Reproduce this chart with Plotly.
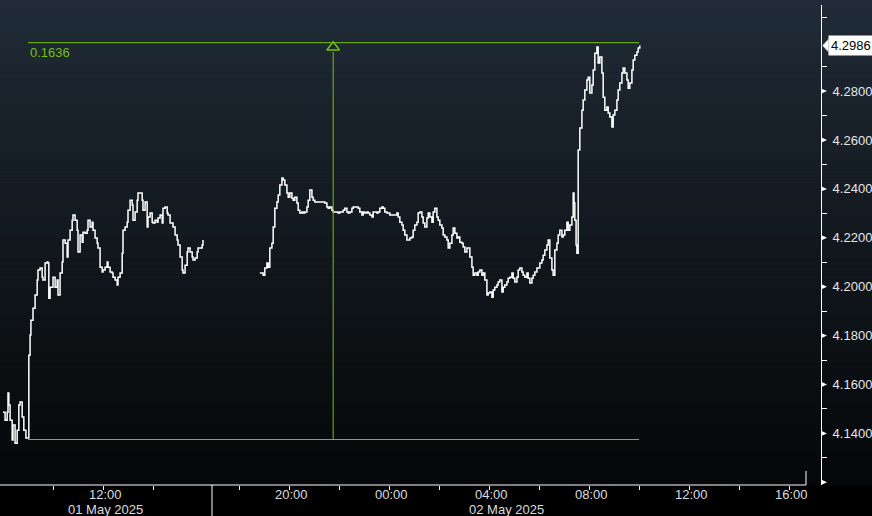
import datetime as dt
import plotly.graph_objects as go

# ---------------- data ----------------
# session 1 (01 May 2025): minutes after midnight, yield values
s1_minutes = [480, 485, 490, 492, 494, 497, 502, 504, 509, 514, 518, 521, 526, 530, 535, 540,
              542, 545, 547, 552, 557, 562, 564, 569, 574, 576, 581, 586, 588, 590, 593, 600,
              605, 610, 612, 617, 622, 624, 629, 634, 636, 641, 646, 648, 653, 658, 660, 665,
              670, 672, 677, 682, 684, 689, 694, 696, 701, 706, 708, 713, 718, 720, 725, 730,
              732, 737, 742, 744, 749, 754, 756, 761, 766, 768, 773, 778, 780, 785, 790, 792,
              797, 802, 804, 809, 814, 816, 821, 826, 828, 833, 838, 840, 845, 850, 852, 857,
              862, 864, 869, 874, 876, 881, 886, 888, 893, 898, 900, 905, 910, 912, 917, 922,
              924, 929, 934, 936, 941, 946, 948, 953, 958, 960]
s1_values = [4.1487, 4.1454, 4.1487, 4.1565, 4.1516, 4.1454, 4.1373, 4.1434, 4.1360, 4.1413,
             4.1516, 4.1528, 4.1467, 4.1413, 4.1381, 4.1381, 4.1720, 4.1802, 4.1863, 4.1912,
             4.1966, 4.2027, 4.2068, 4.2076, 4.2039, 4.2027, 4.2097, 4.2101, 4.2097, 4.1953,
             4.1998, 4.2039, 4.1998, 4.2027, 4.1966, 4.2056, 4.2101, 4.2191, 4.2178, 4.2121,
             4.2191, 4.2231, 4.2272, 4.2293, 4.2272, 4.2231, 4.2142, 4.2211, 4.2182, 4.2223,
             4.2219, 4.2231, 4.2272, 4.2244, 4.2264, 4.2231, 4.2199, 4.2178, 4.2158, 4.2080,
             4.2060, 4.2068, 4.2080, 4.2101, 4.2080, 4.2060, 4.2056, 4.2039, 4.2027, 4.2007,
             4.2039, 4.2056, 4.2137, 4.2231, 4.2244, 4.2264, 4.2313, 4.2354, 4.2334, 4.2272,
             4.2305, 4.2354, 4.2383, 4.2383, 4.2354, 4.2313, 4.2346, 4.2244, 4.2285, 4.2301,
             4.2264, 4.2260, 4.2272, 4.2264, 4.2281, 4.2293, 4.2260, 4.2321, 4.2326, 4.2301,
             4.2293, 4.2260, 4.2260, 4.2244, 4.2211, 4.2191, 4.2170, 4.2121, 4.2068, 4.2056,
             4.2088, 4.2142, 4.2158, 4.2142, 4.2121, 4.2109, 4.2117, 4.2142, 4.2158, 4.2158,
             4.2170, 4.2191]

# session 2: minutes after 01 May 00:00 (values > 1440 fall on 02 May)
s2_minutes = [1130, 1138, 1142, 1147, 1150, 1154, 1159, 1162, 1166, 1171, 1174, 1178, 1183, 1186,
              1190, 1195, 1198, 1202, 1207, 1210, 1214, 1219, 1222, 1226, 1231, 1234, 1238, 1243,
              1246, 1250, 1255, 1258, 1262, 1267, 1274, 1282, 1286, 1291, 1294, 1298, 1303, 1306,
              1315, 1318, 1322, 1330, 1334, 1339, 1342, 1346, 1351, 1354, 1363, 1366, 1370, 1375,
              1378, 1382, 1387, 1390, 1394, 1399, 1402, 1411, 1414, 1418, 1423, 1426, 1430, 1435,
              1442, 1450, 1459, 1462, 1466, 1471, 1474, 1478, 1483, 1486, 1490, 1495, 1498, 1502,
              1507, 1510, 1514, 1519, 1522, 1526, 1531, 1534, 1538, 1543, 1546, 1550, 1555, 1558,
              1562, 1567, 1570, 1574, 1579, 1582, 1586, 1591, 1594, 1598, 1603, 1606, 1610, 1615,
              1618, 1622, 1627, 1630, 1634, 1639, 1642, 1646, 1651, 1654, 1658, 1663, 1666, 1670,
              1675, 1678, 1682, 1687, 1690, 1694, 1699, 1702, 1706, 1711, 1714, 1718, 1723, 1726,
              1730, 1735, 1738, 1742, 1747, 1750, 1754, 1759, 1762, 1766, 1771, 1774, 1778, 1783,
              1786, 1790, 1795, 1798, 1802, 1807, 1810, 1814, 1819, 1822, 1826, 1831, 1834, 1838,
              1843, 1846, 1850, 1855, 1858, 1862, 1867, 1870, 1874, 1879, 1882, 1884, 1886, 1889,
              1891, 1894, 1898, 1903, 1906, 1910, 1915, 1918, 1922, 1927, 1930, 1934, 1939, 1942,
              1946, 1951, 1954, 1958, 1963, 1966, 1970, 1975, 1978, 1982, 1987, 1990, 1994, 1999,
              2002, 2006, 2011, 2014, 2018, 2023, 2026, 2030, 2035, 2038, 2042]
s2_values = [4.2056, 4.2047, 4.2076, 4.2097, 4.2080, 4.2158, 4.2178, 4.2244, 4.2321, 4.2346,
             4.2375, 4.2416, 4.2444, 4.2436, 4.2416, 4.2383, 4.2366, 4.2383, 4.2362, 4.2354,
             4.2366, 4.2342, 4.2313, 4.2301, 4.2305, 4.2301, 4.2305, 4.2326, 4.2354, 4.2395,
             4.2366, 4.2354, 4.2346, 4.2346, 4.2346, 4.2346, 4.2342, 4.2326, 4.2321, 4.2326,
             4.2313, 4.2305, 4.2305, 4.2301, 4.2305, 4.2313, 4.2321, 4.2305, 4.2301, 4.2305,
             4.2321, 4.2326, 4.2326, 4.2321, 4.2305, 4.2293, 4.2305, 4.2301, 4.2305, 4.2301,
             4.2293, 4.2285, 4.2305, 4.2301, 4.2305, 4.2321, 4.2326, 4.2321, 4.2305, 4.2301,
             4.2293, 4.2293, 4.2301, 4.2285, 4.2264, 4.2252, 4.2231, 4.2211, 4.2191, 4.2191,
             4.2199, 4.2203, 4.2231, 4.2252, 4.2264, 4.2301, 4.2305, 4.2285, 4.2260, 4.2244,
             4.2281, 4.2301, 4.2285, 4.2264, 4.2305, 4.2321, 4.2285, 4.2272, 4.2252, 4.2240,
             4.2211, 4.2203, 4.2191, 4.2158, 4.2178, 4.2211, 4.2240, 4.2219, 4.2199, 4.2203,
             4.2182, 4.2178, 4.2162, 4.2142, 4.2158, 4.2158, 4.2121, 4.2080, 4.2047, 4.2056,
             4.2047, 4.2060, 4.2068, 4.2047, 4.2056, 4.2027, 4.1966, 4.1974, 4.1978, 4.1957,
             4.1986, 4.1998, 4.2007, 4.2019, 4.2027, 4.1978, 4.1998, 4.2007, 4.2019, 4.2035,
             4.2039, 4.2056, 4.2035, 4.2019, 4.2039, 4.2068, 4.2076, 4.2060, 4.2047, 4.2039,
             4.2056, 4.2035, 4.2015, 4.2035, 4.2047, 4.2060, 4.2076, 4.2076, 4.2097, 4.2109,
             4.2129, 4.2150, 4.2170, 4.2191, 4.2117, 4.2068, 4.2047, 4.2150, 4.2178, 4.2211,
             4.2231, 4.2203, 4.2211, 4.2231, 4.2264, 4.2231, 4.2252, 4.2285, 4.2383, 4.2342,
             4.2272, 4.2170, 4.2137, 4.2559, 4.2649, 4.2722, 4.2763, 4.2804, 4.2845, 4.2857,
             4.2792, 4.2825, 4.2886, 4.2955, 4.2980, 4.2915, 4.2939, 4.2874, 4.2775, 4.2722,
             4.2735, 4.2710, 4.2694, 4.2653, 4.2702, 4.2722, 4.2763, 4.2804, 4.2833, 4.2874,
             4.2894, 4.2874, 4.2845, 4.2812, 4.2833, 4.2886, 4.2927, 4.2947, 4.2960, 4.2976,
             4.2986]

last_price = 4.2986
diff_label = "0.1636"
ann_high = 4.2998
ann_low = 4.1375
ann_start = "2025-05-01 09:00"
ann_end = "2025-05-02 10:00"
ann_mid = "2025-05-01 21:46"

y_ticks = [4.14, 4.16, 4.18, 4.20, 4.22, 4.24, 4.26, 4.28]
y_tick_text = ["4.1400", "4.1600", "4.1800", "4.2000", "4.2200", "4.2400", "4.2600", "4.2800"]
y_arrow_ticks = [4.12] + y_ticks
y_minor = [4.13, 4.15, 4.17, 4.19, 4.21, 4.23, 4.25, 4.27, 4.29, 4.31]

x_ticks = ["2025-05-01 10:00", "2025-05-01 12:00", "2025-05-01 14:00", "2025-05-01 18:00",
           "2025-05-01 20:00", "2025-05-01 22:00", "2025-05-02 00:00", "2025-05-02 02:00",
           "2025-05-02 04:00", "2025-05-02 06:00", "2025-05-02 08:00", "2025-05-02 10:00",
           "2025-05-02 12:00", "2025-05-02 14:00", "2025-05-02 16:00"]
x_tick_text = ["", "12:00", "", "", "20:00", "", "00:00", "", "04:00", "", "08:00", "",
               "12:00", "", "16:00"]
date_labels = ["01 May 2025", "02 May 2025"]

# ---------------- build ----------------
base = dt.datetime(2025, 5, 1)
xs = [base + dt.timedelta(minutes=m) for m in s1_minutes] + [None] + \
     [base + dt.timedelta(minutes=m) for m in s2_minutes]
ys = s1_values + [None] + s2_values

GREEN = "#74c10a"
FONT = "Liberation Sans, Arial, sans-serif"
W, H = 872, 516
ML, MR, MT, MB = 0, 51, 5, 31
PW = W - ML - MR
PH = H - MT - MB


def px_x(p):
    return (p - ML) / PW


def px_y(p):
    return (H - MB - p) / PH


fig = go.Figure()
fig.add_trace(go.Scatter(x=xs, y=ys, mode="lines", line=dict(color="white", width=1.5, shape="hv"),
                         connectgaps=False, hoverinfo="skip", showlegend=False))
# measurement tool marker
fig.add_trace(go.Scatter(x=[ann_mid], y=[ann_high - 0.0019], mode="markers",
                         marker=dict(symbol="triangle-up-open", size=11, color=GREEN,
                                     line=dict(color=GREEN, width=1.5)),
                         hoverinfo="skip", showlegend=False))

shapes = []
# background gradient (slightly eased so the lower part fades to near black)
top = (33, 45, 57)
bot = (5, 7, 8)
n = 60
y_top_px, y_bot_px = 0, H - MB
for i in range(n):
    f = (i + 0.5) / n
    g = f ** 0.85
    c = tuple(int(round(top[k] + (bot[k] - top[k]) * g)) for k in range(3))
    p0 = y_top_px + (y_bot_px - y_top_px) * i / n
    p1 = y_top_px + (y_bot_px - y_top_px) * (i + 1) / n
    shapes.append(dict(type="rect", xref="paper", yref="paper", x0=0, x1=W / PW,
                       y0=px_y(p1), y1=px_y(p0) + 0.001, fillcolor="rgb(%d,%d,%d)" % c,
                       line=dict(width=0), layer="below"))

shapes += [
    dict(type="line", xref="x", yref="y", x0=ann_start, x1=ann_end, y0=ann_high, y1=ann_high,
         line=dict(color=GREEN, width=1)),
    dict(type="line", xref="x", yref="y", x0=ann_start, x1=ann_end, y0=ann_low, y1=ann_low,
         line=dict(color=GREEN, width=1)),
    dict(type="line", xref="x", yref="y", x0=ann_mid, x1=ann_mid, y0=ann_low, y1=ann_high - 0.0038,
         line=dict(color=GREEN, width=1)),
    # x axis line
    dict(type="line", xref="paper", yref="paper", x0=0, x1=px_x(806), y0=0, y1=0,
         line=dict(color="white", width=1)),
    dict(type="line", xref="paper", yref="paper", x0=px_x(806), x1=px_x(806), y0=0, y1=px_y(471),
         line=dict(color="white", width=1)),
    # day separator
    dict(type="line", xref="paper", yref="paper", x0=px_x(212), x1=px_x(212), y0=0, y1=px_y(516),
         line=dict(color="white", width=1)),
]
# right axis arrow ticks
for v in y_arrow_ticks:
    shapes.append(dict(type="path", xref="paper", yref="y",
                       path="M 1.0,%f L %f,%f L 1.0,%f Z" % (v - 0.0011, 1.0 + 6 / PW, v, v + 0.0011),
                       fillcolor="white", line=dict(color="white", width=0)))
# last price tag notch
shapes.append(dict(type="path", xref="paper", yref="y",
                   path="M %f,%f L %f,%f L %f,%f Z" % (px_x(822), last_price, px_x(829), last_price + 0.0030,
                                                      px_x(829), last_price - 0.0030),
                   fillcolor="white", line=dict(color="#444444", width=1)))

annotations = [
    dict(x=ann_start, y=ann_high, xref="x", yref="y", text=diff_label, showarrow=False,
         xanchor="left", yanchor="top", xshift=0, yshift=0,
         font=dict(family=FONT, size=13, color=GREEN)),
    dict(x=px_x(828), y=last_price, xref="paper", yref="y", text="%.4f" % last_price,
         showarrow=False, xanchor="left", yanchor="middle", bgcolor="white", borderpad=2,
         font=dict(family=FONT, size=13, color="black")),
    dict(x=px_x(106), y=px_y(510), xref="paper", yref="paper", text=date_labels[0], showarrow=False,
         xanchor="center", yanchor="middle", font=dict(family=FONT, size=13, color="#dcdcdc")),
    dict(x=px_x(506), y=px_y(510), xref="paper", yref="paper", text=date_labels[1], showarrow=False,
         xanchor="center", yanchor="middle", font=dict(family=FONT, size=13, color="#dcdcdc")),
]
# x tick labels (placed just under the axis, as in the reference)
for tv, tt in zip(x_ticks, x_tick_text):
    if tt:
        annotations.append(dict(x=tv, y=px_y(494), xref="x", yref="paper", text=tt, showarrow=False,
                                xanchor="center", yanchor="middle", xshift=2,
                                font=dict(family=FONT, size=13, color="#dcdcdc")))

fig.update_layout(
    width=W, height=H, margin=dict(l=ML, r=MR, t=MT, b=MB),
    paper_bgcolor="black", plot_bgcolor="rgba(0,0,0,0)",
    shapes=shapes, annotations=annotations, showlegend=False,
    xaxis=dict(type="date", range=["2025-05-01 07:52:48", "2025-05-02 17:16:48"],
               rangebreaks=[dict(bounds=["2025-05-01 16:21:36", "2025-05-01 16:55:12"])],
               tickmode="array", tickvals=x_ticks, ticktext=[""] * len(x_ticks),
               ticks="outside", ticklen=4, tickcolor="white", tickwidth=1,
               showgrid=False, zeroline=False, showline=False,
               tickfont=dict(family=FONT, size=13, color="#dcdcdc")),
    yaxis=dict(side="right", range=[4.1189, 4.3152], tickmode="array", tickvals=y_ticks,
               ticktext=y_tick_text, ticks="outside", ticklen=8, tickcolor="rgba(0,0,0,0)",
               showgrid=False, zeroline=False, showline=True, linecolor="white", linewidth=1,
               tickfont=dict(family=FONT, size=13, color="#e6e6e6"),
               minor=dict(tickmode="array", tickvals=y_minor, ticks="outside", ticklen=5,
                          tickcolor="white", tickwidth=1, showgrid=False)),
)

fig.write_html("out.html", config={"displayModeBar": False},
               post_script="document.body.style.margin='0';document.body.style.overflow='hidden';")
